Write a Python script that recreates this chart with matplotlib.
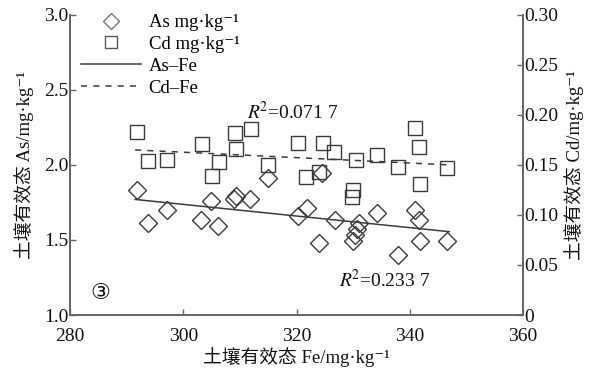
import matplotlib
matplotlib.use("Agg")
import matplotlib.pyplot as plt
import numpy as np
from matplotlib.lines import Line2D

plt.rcParams['mathtext.fontset'] = 'stix'
FAM = ['Liberation Serif', 'DejaVu Serif', 'Noto Sans CJK SC']
plt.rcParams['font.family'] = FAM

# As (left axis) points: Fe vs As
as_fe = [291.9, 293.8, 297.2, 303.1, 304.9, 306.2, 309.0, 309.4, 311.8, 315.0,
         320.3, 321.8, 324.0, 324.5, 326.8, 330.0, 330.3, 330.6, 331.1, 334.2,
         338.0, 341.0, 341.6, 341.8, 346.5]
as_val = [1.83, 1.61, 1.70, 1.63, 1.76, 1.59, 1.77, 1.79, 1.77, 1.91,
          1.66, 1.71, 1.48, 1.945, 1.63, 1.49, 1.53, 1.57, 1.61, 1.68,
          1.40, 1.70, 1.63, 1.49, 1.49]

# Cd (right axis) points: Fe vs Cd
cd_fe = [291.8, 293.8, 297.2, 303.3, 305.0, 306.4, 309.2, 309.4, 312.0, 315.0,
         320.3, 321.7, 323.9, 324.7, 326.6, 329.8, 330.0, 330.5, 334.2, 338.0,
         341.0, 341.6, 341.8, 346.5]
cd_val = [0.183, 0.154, 0.155, 0.171, 0.139, 0.153, 0.182, 0.166, 0.186, 0.150,
          0.172, 0.138, 0.143, 0.172, 0.163, 0.118, 0.125, 0.155, 0.160, 0.148,
          0.187, 0.168, 0.131, 0.147]

# Fitted lines (end points)
fit_fe = [291.5, 347.0]
as_fit = [1.77, 1.555]
cd_fit = [0.165, 0.150]

x_ticks = [280, 300, 320, 340, 360]
left_ticks = [1.0, 1.5, 2.0, 2.5, 3.0]
right_ticks = [0, 0.05, 0.10, 0.15, 0.20, 0.25, 0.30]
right_labels = ['0', '0.05', '0.10', '0.15', '0.20', '0.25', '0.30']

C = '#3a3a3a'
FS = 14
fig = plt.figure(figsize=(5.93, 3.80), dpi=100)
ax = fig.add_axes([0.118, 0.171, 0.764, 0.790])
ax2 = ax.twinx()

ax.plot(as_fe, as_val, linestyle='none', marker='D', markersize=9,
        markerfacecolor='none', markeredgecolor=C, markeredgewidth=1.0)
ax.plot(fit_fe, as_fit, '-', color=C, linewidth=1.1)
ax2.plot(cd_fe, cd_val, linestyle='none', marker='s', markersize=9.5,
         markerfacecolor='none', markeredgecolor=C, markeredgewidth=1.0)
ax2.plot(fit_fe, cd_fit, linestyle=(0, (4, 4)), color=C, linewidth=1.1)

ax.set_xlim(280, 360)
ax.set_ylim(1.0, 3.0)
ax2.set_ylim(0, 0.30)
ax.set_xticks(x_ticks)
ax.set_xticklabels([str(t) for t in x_ticks])
ax.set_yticks(left_ticks)
ax.set_yticklabels(['%.1f' % t for t in left_ticks])
ax2.set_yticks(right_ticks)
ax2.set_yticklabels(right_labels)

for a in (ax, ax2):
    a.spines['top'].set_visible(False)
    for s in a.spines.values():
        s.set_color('#666666')
        s.set_linewidth(1.3)
    a.tick_params(direction='in', length=4, width=1, colors='#666666',
                  labelcolor='#111111', labelsize=FS, pad=1)
ax.tick_params(axis='x', pad=9)

ax.set_xlabel('土壤有效态 Fe/mg·kg⁻¹', fontsize=13.5, family=FAM, color='#111111', labelpad=2)
ax.set_ylabel('土壤有效态 As/mg·kg⁻¹', fontsize=13.5, family=FAM, color='#111111', labelpad=7)
ax2.set_ylabel('土壤有效态 Cd/mg·kg⁻¹', fontsize=13.5, family=FAM, color='#111111', labelpad=4)

ax.text(311.2, 2.35, r'$R^{\!2}$=0.071 7', fontsize=FS, va='center', ha='left', color='#111111')
ax.text(327.5, 1.23, r'$R^{\!2}$=0.233 7', fontsize=FS, va='center', ha='left', color='#111111')
ax.text(285.3, 1.15, '③', fontsize=16, va='center', ha='center',
        family=['DejaVu Sans', 'Noto Sans CJK SC'], color='#111111')

handles = [
    Line2D([], [], linestyle='none', marker='D', markersize=8, markerfacecolor='none',
           markeredgecolor='#777777', markeredgewidth=1.0),
    Line2D([], [], linestyle='none', marker='s', markersize=8, markerfacecolor='none',
           markeredgecolor='#555555', markeredgewidth=1.0),
    Line2D([], [], linestyle='-', color=C, linewidth=1.1),
    Line2D([], [], linestyle=(0, (4, 4)), color=C, linewidth=1.1),
]
labels = ['As mg·kg⁻¹', 'Cd mg·kg⁻¹', 'As–Fe', 'Cd–Fe']
leg = ax2.legend(handles, labels, loc='upper left', frameon=False, fontsize=13.5,
                 handlelength=3.2, handletextpad=0.4, labelspacing=0.25,
                 bbox_to_anchor=(0.0, 1.04), borderaxespad=0.2)

fig.savefig('out.png', dpi=100)
